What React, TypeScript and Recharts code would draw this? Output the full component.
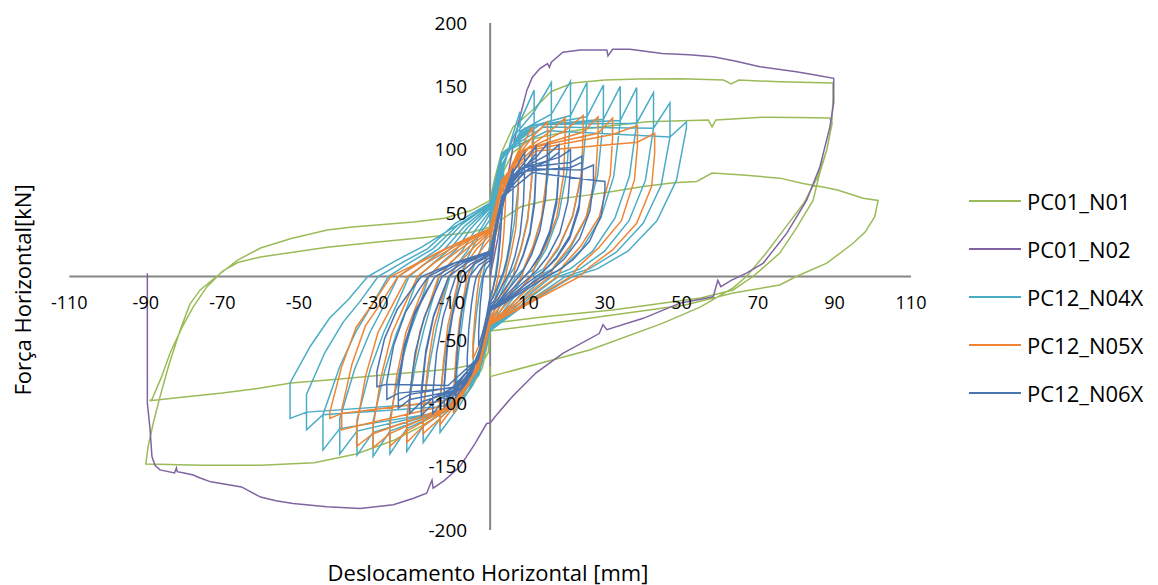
import React from 'react';
import { ScatterChart, Scatter, XAxis, YAxis, ReferenceLine, ReferenceDot, Legend } from 'recharts';

// tick values
const xTicks = [-110, -90, -70, -50, -30, -10, 10, 30, 50, 70, 90, 110];
const yTicks = [-200, -150, -100, -50, 0, 50, 100, 150, 200];

// PC01_N01 (monotonic-ish large cycles)
const pc01N01: number[][] = [
  [0, 0], [1, 30], [3, 45], [8, 55], [14.7, 60], [25, 64], [32, 67], [40, 71], [48, 74], [54, 75], [58, 81.6], [66, 80], [75.7, 77.6], [81.8, 73.4], [88, 70], [91, 68], [97.5, 61.7], [101.4, 60],
  [100.5, 47], [98, 35], [94.8, 26], [88, 10.6], [80, 0], [75.7, -6.7], [63.5, -13], [51, -22.5], [23.5, -34], [0, -43],
  [-0.5, -60], [-2, -68], [-10, -73], [-25, -77], [-40, -81], [-52, -84], [-60, -88], [-70, -92], [-80, -95], [-86, -97], [-89, -98],
  [-88.4, -97], [-86, -80], [-83.6, -60], [-80.5, -40], [-77.6, -24], [-74, -8], [-70, 4], [-66, 11], [-60, 15.4], [-52, 19], [-42.6, 23], [-30, 27], [-16.5, 31], [-5, 35], [0, 39],
  [1, 55], [3, 80], [6, 98], [10.4, 108], [18, 113], [26, 117], [41, 122], [57, 123.5], [58, 118], [59, 123.5], [71, 125.6], [80, 125.5], [88.7, 125],
  [89.4, 121], [88, 100], [86, 80], [84.4, 60], [80, 38], [75.7, 18.5], [71, 6], [68.7, 0], [63.5, -10.6], [55, -17], [32, -26.5], [14.7, -31.6], [0, -37],
  [-0.5, -50], [-2, -72], [-5, -88], [-10, -103], [-18, -118], [-25, -129], [-35, -140], [-46, -147], [-60, -149], [-75, -149], [-90, -148],
  [-89.4, -134], [-88, -115], [-86.3, -95], [-84, -70], [-81, -42], [-78.5, -22], [-75.8, -10.6], [-71.5, 0], [-66, 13], [-60, 22.5], [-52, 30], [-42.6, 36.7], [-36, 39], [-29.6, 40.6], [-20, 43], [-12, 46], [-5, 52], [0, 60],
  [1, 75], [3, 98], [6, 118], [11, 131], [16, 146], [21.6, 152.6], [30, 155], [39, 155.8], [50, 156], [61, 155], [63, 152], [65, 155], [75.7, 153.6], [89.6, 152.6],
  [89.6, 140], [89.3, 121], [88, 100], [85.5, 78], [82, 58], [77, 38], [72, 18], [67, 0], [63.5, -9], [55, -24], [45, -37], [26, -58], [0, -79], [0, -71],
];

// PC01_N02 (one big cycle)
const pc01N02: number[][] = [
  [0, 0], [2, 30], [4, 68], [6, 103], [7.8, 126], [9.6, 147], [11, 157], [13, 164], [15, 168], [15.5, 165], [16, 169], [19, 177], [23.5, 178.7], [30.5, 178.7], [30.8, 174], [32, 179.2], [36.5, 179.2], [45, 176], [52, 175], [58.3, 173.4], [64, 170], [70.5, 165.5], [80, 161.6], [85, 159], [89.8, 156.4],
  [89.8, 137], [88.8, 118], [86.2, 86.6], [82.7, 60], [77.5, 34], [71.4, 10.6], [67, 2.6], [63, -3], [60.3, -8], [59.5, -3], [58.3, -16], [54, -18.5], [49.6, -21], [40, -33], [30.5, -42], [29.5, -38], [28.5, -45], [19, -60.6], [12, -76], [6, -94], [2, -108], [0, -115.6],
  [-0.9, -116], [-4, -132], [-7.9, -150], [-12, -161], [-14.9, -167], [-15.2, -160.6], [-16.6, -171], [-20, -175], [-25.3, -180], [-34, -183], [-42.7, -181.6], [-51.5, -179], [-56, -177], [-60, -174], [-65, -166], [-73, -162], [-75.8, -159], [-77.6, -156.6], [-80, -155], [-81.8, -154], [-82, -151], [-82.5, -155], [-86.3, -152.6], [-87.6, -149], [-88.4, -142], [-88.9, -120], [-89.6, -100], [-89.6, -40], [-89.6, 2.5],
];

// PC12_N04X, one line per cycle
const pc12N04X: number[][] = [
  [0, 0], [1, 35], [2.2, 62], [3.5, 85], [3.5, 68], [2.8, 40], [2, 15], [1.3, 0], [0.6, -12], [0, -20], [-1.2, -42], [-2.8, -58], [-4.4, -70], [-4.4, -55], [-3.6, -30], [-2.7, -10], [-2, 0], [-1, 14], [0, 25],
  [1.5, 60], [3.5, 85], [5.5, 108], [7.8, 130], [7.8, 104], [7.3, 70], [6.3, 42], [5, 20], [4, 6], [3.3, 0], [2, -10], [1, -20], [0, -30], [-1.5, -55], [-3.5, -72], [-6, -88], [-8.7, -100], [-8.7, -75], [-7.8, -48], [-6.8, -25], [-5.3, 0], [-3.5, 14], [-1.8, 26], [0, 38],
  [2, 70], [4.5, 98], [7.8, 122], [11.5, 147], [11.5, 120], [10.9, 78], [9.8, 46], [8, 22], [6.3, 7], [4.8, 0], [3, -12], [1.3, -25], [0, -35], [-2, -65], [-4.5, -85], [-8.7, -105], [-13.1, -123], [-13.1, -95], [-11.8, -62], [-10.4, -36], [-9.3, -20], [-8, 0], [-6, 14], [-3, 32], [0, 45],
  [2.5, 80], [6, 110], [11.5, 130], [16, 153], [16, 125], [15.2, 82], [13.6, 48], [11.2, 22], [8.8, 6], [6.7, 0], [4, -14], [1.8, -28], [0, -38], [-2.5, -68], [-6, -92], [-13.1, -112], [-17.5, -131], [-17.5, -103], [-15.7, -67], [-14, -40], [-12.4, -20], [-10.5, 0], [-8.3, 11], [-6, 20], [-3.3, 33], [0, 50],
  [3, 88], [8, 115], [16, 128], [21, 154], [21, 126], [20, 82], [17.9, 48], [14.7, 22], [11.5, 6], [8.8, 0], [5.3, -15], [2.3, -29], [0, -40], [-3, -72], [-8, -98], [-17.5, -118], [-21.8, -138], [-21.8, -110], [-19.6, -71], [-17.4, -43], [-15.5, -23], [-13.3, 0], [-10.5, 10], [-7.4, 20], [-4, 36], [0, 52],
  [3, 92], [9, 117], [21, 127], [25.3, 153], [25.3, 125], [24, 81], [21.5, 47], [17.7, 21], [13.9, 6], [10.6, 0], [6.3, -16], [2.8, -30], [0, -41], [-3, -74], [-9, -102], [-21.8, -120], [-26.2, -140], [-26.2, -112], [-23.6, -73], [-21, -44], [-18.6, -24], [-16, 0], [-12.6, 11], [-8.9, 21], [-5, 38], [0, 54],
  [3, 94], [10, 118], [25.3, 126], [29.6, 151], [29.6, 123], [28.1, 80], [25.2, 47], [20.7, 21], [16.3, 6], [12.4, 0], [7.4, -16], [3.2, -31], [0, -42], [-3, -75], [-10, -104], [-26.2, -122], [-30.6, -142], [-30.6, -114], [-27.5, -74], [-24.5, -45], [-21.7, -24], [-18.7, 0], [-14.7, 11], [-10.4, 22], [-5.8, 39], [0, 55],
  [3, 95], [11, 119], [29.6, 124], [34, 150], [34, 122], [32.3, 79], [28.9, 46], [23.8, 21], [18.7, 6], [14.3, 0], [8.5, -16], [3.7, -31], [0, -42], [-3, -76], [-11, -105], [-30.6, -123], [-34.8, -141], [-34.8, -113], [-31.3, -73], [-27.8, -44], [-24.7, -24], [-21.2, 0], [-16.7, 11], [-11.8, 22], [-6.6, 40], [0, 56],
  [3, 96], [12, 120], [34, 123], [38.3, 149], [38.3, 121], [36.4, 79], [32.6, 46], [26.8, 20], [21, 6], [16.1, 0], [9.6, -16], [4.2, -31], [0, -43], [-3, -77], [-12, -106], [-34.8, -122], [-39.3, -140], [-39.3, -112], [-35.4, -73], [-31.4, -44], [-27.9, -24], [-24, 0], [-18.9, 11], [-13.4, 22], [-7.5, 41], [0, 57],
  [3, 97], [13, 120], [38.3, 121], [42.7, 145], [42.7, 117], [40.6, 76], [36.3, 44], [29.9, 20], [23.5, 6], [17.9, 0], [10.7, -16], [4.7, -31], [0, -43], [-3, -78], [-13, -107], [-39.3, -120], [-43.7, -137], [-43.7, -109], [-39.3, -71], [-35, -43], [-31, -23], [-26.6, 0], [-21, 11], [-14.9, 22], [-8.3, 41], [0, 57],
  [3, 97], [14, 118], [42.7, 117], [47, 137], [47, 110], [44.7, 72], [40, 42], [32.9, 19], [25.9, 6], [19.7, 0], [11.8, -16], [5.2, -31], [0, -43], [-3, -78], [-14, -103], [-43.7, -109], [-48, -121], [-48, -93], [-43.2, -60], [-38.4, -36], [-34.1, -20], [-29.3, 0], [-23, 11], [-16.3, 22], [-9.1, 42], [0, 58],
  [3, 97], [15, 115], [47, 110], [51.3, 122], [51.3, 117], [48.7, 76], [43.6, 44], [36, 20], [28, 6], [21.5, 0], [12.8, -16], [5, -30], [0, -42], [-3, -76], [-15, -100], [-48, -107], [-52.3, -112], [-52.3, -84], [-47, -55], [-42, -33], [-37, -18], [-32, 0], [-25, 12], [-18, 23], [-10, 38], [-5, 47], [0, 57],
];

// PC12_N05X
const pc12N05X: number[][] = [
  [0, 0], [1.3, 30], [2.6, 52], [4, 70], [4, 58], [3.6, 35], [3, 15], [2.3, 3], [2.1, 0], [1.2, -12], [0, -20], [-1.5, -40], [-3, -55], [-4.5, -65], [-4.5, -52], [-4, -32], [-3.4, -13], [-2.8, 0], [-1.5, 12], [0, 22],
  [2, 50], [4, 70], [5.8, 88], [7.5, 100], [7.5, 86], [7.3, 63], [6.7, 38], [5.5, 19], [4.5, 7], [4, 0], [2.5, -11], [1, -22], [0, -28], [-2, -55], [-4.5, -72], [-7, -92], [-9.6, -108], [-9.6, -94], [-8.9, -62], [-8, -35], [-6.9, -16], [-6, 0], [-4.5, 9], [-2.5, 20], [0, 30],
  [2.5, 62], [5, 82], [7.5, 98], [11, 118], [11, 102], [10.8, 75], [9.8, 44], [8.1, 22], [6.6, 8], [6, 0], [3.6, -13], [1.5, -25], [0, -32], [-2.5, -62], [-5.5, -85], [-9.6, -103], [-13.1, -117], [-13.1, -102], [-12.2, -67], [-11, -38], [-9.4, -17], [-8.1, 0], [-6.2, 10], [-3.5, 22], [0, 33],
  [3, 68], [6, 90], [11, 110], [15, 122], [15, 106], [14.7, 77], [13.4, 46], [11.1, 23], [9, 8], [8.3, 0], [5, -14], [2, -26], [0, -34], [-3, -67], [-7, -92], [-13.1, -112], [-17.5, -124], [-17.5, -108], [-16.3, -71], [-14.7, -40], [-12.6, -18], [-10.9, 0], [-8.3, 10], [-4.6, 22], [0, 35],
  [3, 72], [7, 95], [15, 113], [19.6, 125], [19.6, 109], [19.2, 80], [17.4, 47], [14.5, 24], [11.8, 9], [10.8, 0], [6.5, -14], [2.7, -27], [0, -35], [-3, -70], [-8, -97], [-17.5, -118], [-21.8, -131], [-21.8, -115], [-20.3, -76], [-18.3, -43], [-15.7, -20], [-13.5, 0], [-10.4, 11], [-5.7, 23], [0, 36],
  [3, 74], [8, 98], [19.6, 115], [24.3, 127], [24.3, 111], [23.8, 81], [21.6, 48], [18, 24], [14.6, 9], [13.4, 0], [8, -15], [3.4, -28], [0, -36], [-3, -72], [-9, -100], [-21.8, -122], [-26.2, -134], [-26.2, -118], [-24.4, -78], [-22, -44], [-18.9, -20], [-16.2, 0], [-12.4, 11], [-6.8, 24], [0, 37],
  [3, 75], [9, 100], [24.3, 114], [28.2, 126], [28.2, 110], [27.6, 80], [25.1, 47], [20.9, 24], [16.9, 9], [15.5, 0], [9.3, -15], [3.9, -28], [0, -37], [-3, -73], [-10, -102], [-26.2, -124], [-30.6, -135], [-30.6, -119], [-28.5, -79], [-25.7, -45], [-22, -20], [-19, 0], [-14.5, 11], [-8, 24], [0, 38],
  [3, 76], [10, 101], [28.2, 113], [32, 125], [32, 109], [31.4, 80], [28.5, 47], [23.7, 24], [19.2, 9], [17.6, 0], [10.6, -15], [4.5, -28], [0, -37], [-3, -73], [-11, -103], [-30.6, -124], [-34.9, -134], [-34.9, -118], [-32.5, -78], [-29.3, -44], [-25.1, -20], [-21.6, 0], [-16.5, 11], [-9.1, 24], [0, 38],
  [3, 76], [11, 100], [32, 112], [38.5, 119], [38.5, 103], [37.7, 76], [34.3, 44], [28.5, 23], [23.1, 8], [21.2, 0], [12.7, -15], [5.4, -28], [0, -38], [-3, -73], [-12, -102], [-34.9, -118], [-38.8, -121], [-38.8, -105], [-36.1, -69], [-32.6, -39], [-27.9, -18], [-24.1, 0], [-18.4, 11], [-10.1, 24], [0, 38],
  [3, 76], [12, 99], [38.5, 106], [43, 113], [43, 97], [42.2, 71], [38.3, 42], [32, 21], [26, 7.5], [23.5, 0], [14, -15], [6, -28], [0, -38], [-3, -72], [-12, -98], [-38.8, -108], [-41.9, -112], [-41.9, -107], [-38.8, -71], [-35, -40], [-30, -18.5], [-26, 0], [-20, 9], [-13, 20], [-6, 30], [0, 38],
];

// PC12_N06X
const pc12N06X: number[][] = [
  [0, 0], [1, 25], [2, 45], [3, 60], [3, 48], [2.6, 28], [2, 10], [1.5, 0], [0.7, -10], [0, -15], [-1, -32], [-2, -45], [-3, -55], [-3, -43], [-2.6, -22], [-2.1, -8], [-1.8, 0], [-1, 6], [0, 10],
  [1.5, 35], [3, 55], [4.5, 72], [6, 85], [6, 70], [5.8, 48], [5.2, 28], [4.3, 13], [3.5, 4], [3, 0], [1.8, -9], [0.7, -17], [0, -20], [-1.5, -45], [-3, -60], [-4.5, -72], [-6, -80], [-6, -65], [-5.6, -42], [-4.9, -22], [-4.2, -8], [-3.6, 0], [-2, 8], [0, 13],
  [2, 45], [4, 68], [6, 82], [9, 98], [9, 83], [8.7, 58], [7.8, 33], [6.5, 16], [5.3, 5], [4.5, 0], [2.7, -10], [1.1, -19], [0, -22], [-2, -52], [-4, -70], [-6, -83], [-9, -95], [-9, -80], [-8.4, -52], [-7.4, -28], [-6.2, -11], [-5.4, 0], [-3, 9], [0, 15],
  [2.5, 52], [5, 75], [9, 90], [12, 103], [12, 88], [11.6, 61], [10.4, 35], [8.6, 17], [7, 5], [6, 0], [3.6, -11], [1.5, -20], [0, -24], [-2.5, -58], [-5, -78], [-9, -92], [-12, -103], [-12, -88], [-11.2, -57], [-9.8, -30], [-8.3, -12], [-7.2, 0], [-4, 10], [0, 17],
  [2.5, 50], [5, 72], [9, 86], [12, 97], [12, 83], [11.6, 57], [10.4, 33], [8.6, 16], [7, 5], [6, 0], [3.6, -11], [1.5, -20], [0, -24], [-2.5, -56], [-5, -75], [-9, -88], [-12, -98], [-12, -84], [-11.2, -54], [-9.8, -29], [-8.3, -11], [-7.2, 0], [-4, 10], [0, 17],
  [3, 57], [6, 80], [12, 94], [15, 105], [15, 90], [14.5, 62], [13, 36], [10.8, 17], [8.7, 5], [7.5, 0], [4.5, -11], [1.9, -21], [0, -25], [-3, -62], [-6, -83], [-12, -98], [-15, -108], [-15, -93], [-14, -60], [-12.3, -32], [-10.4, -13], [-9, 0], [-5, 10], [0, 18],
  [3, 60], [7, 83], [15, 96], [18, 104], [18, 89], [17.4, 62], [15.6, 36], [13, 17], [10.4, 5], [9, 0], [5.4, -11], [2.2, -21], [0, -26], [-3, -64], [-7, -87], [-15, -100], [-18, -110], [-18, -95], [-16.8, -61], [-14.8, -32], [-12.4, -13], [-10.8, 0], [-6, 11], [0, 19],
  [3, 58], [7, 80], [15, 91], [18, 98], [18, 84], [17.4, 58], [15.6, 34], [13, 16], [10.4, 5], [9, 0], [5.4, -11], [2.2, -21], [0, -26], [-3, -62], [-7, -84], [-15, -96], [-18, -104], [-18, -90], [-16.8, -58], [-14.8, -31], [-12.4, -12], [-10.8, 0], [-6, 11], [0, 19],
  [3, 62], [8, 85], [18, 94], [21, 100], [21, 85], [20.3, 59], [18.2, 34], [15.1, 16], [12.2, 5], [10.5, 0], [6.3, -11], [2.6, -21], [0, -26], [-3, -65], [-8, -89], [-18, -99], [-21, -108], [-21, -93], [-19.6, -60], [-17.2, -32], [-14.5, -13], [-12.6, 0], [-7, 11], [0, 20],
  [3, 63], [9, 86], [21, 90], [24, 95], [24, 80], [23.2, 56], [20.8, 32], [17.3, 15], [13.9, 4], [12, 0], [7.2, -11], [3, -21], [0, -27], [-3, -65], [-9, -90], [-21, -97], [-24, -104], [-24, -89], [-22.4, -57], [-19.7, -30], [-16.6, -12], [-14.4, 0], [-8, 11], [0, 20],
  [3, 61], [9, 83], [21, 86], [24, 90], [24, 76], [23.2, 53], [20.8, 30], [17.3, 14], [13.9, 4], [12, 0], [7.2, -11], [3, -21], [0, -27], [-3, -63], [-9, -87], [-21, -93], [-24, -98], [-24, -84], [-22.4, -54], [-19.7, -28], [-16.6, -11], [-14.4, 0], [-8, 11], [0, 20],
  [3, 63], [10, 85], [24, 84], [27, 88], [27, 74], [26.1, 52], [23.4, 30], [19.4, 14], [15.7, 4], [13.5, 0], [8.1, -11], [3.4, -21], [0, -27], [-3, -65], [-10, -88], [-24, -92], [-27, -97], [-27, -83], [-25.2, -54], [-22.1, -28], [-18.7, -11], [-16.2, 0], [-9, 11], [0, 20],
  [3, 62], [11, 82], [27, 76], [30, 75], [30, 68], [29, 48], [26, 28], [21.6, 13], [17.4, 4], [14.8, 0], [9, -11], [3.7, -21], [0, -27], [-3, -64], [-11, -86], [-27, -85], [-29.6, -87], [-29.6, -75], [-27.6, -49], [-24.3, -26], [-20.5, -10], [-18, 0], [-10, 10], [0, 18],
];

const toPoints = (rows: number[][]) => rows.map(([x, y]) => ({ x, y }));

const SERIES = [
  { name: 'PC01_N01', color: '#9BBB59', data: toPoints(pc01N01) },
  { name: 'PC01_N02', color: '#8064A2', data: toPoints(pc01N02) },
  { name: 'PC12_N04X', color: '#4BACC6', data: toPoints(pc12N04X) },
  { name: 'PC12_N05X', color: '#EE8535', data: toPoints(pc12N05X) },
  { name: 'PC12_N06X', color: '#4A74B0', data: toPoints(pc12N06X) },
];

const W = 1150;
const H = 577;
const MARGIN = { top: 15, left: 61.3, right: 247, bottom: 55 };
const FONT = '"Open Sans", "Liberation Sans", sans-serif';

const noDot = () => <g />;

const renderLegend = () => (
  <div style={{ fontFamily: FONT }}>
    {SERIES.map((s) => (
      <div key={s.name} style={{ display: 'flex', alignItems: 'center', height: 48.1 }}>
        <span style={{ width: 52, borderTop: `2px solid ${s.color}` }} />
        <span style={{ marginLeft: 6, fontSize: 22, color: '#000' }}>{s.name}</span>
      </div>
    ))}
  </div>
);

export default function App() {
  return (
    <div style={{ position: 'relative', width: W, height: H, fontFamily: FONT }}>
      <ScatterChart width={W} height={H} margin={MARGIN}>
        <XAxis type="number" dataKey="x" domain={[-110, 110]} ticks={xTicks} hide allowDataOverflow />
        <YAxis type="number" dataKey="y" domain={[-200, 200]} ticks={yTicks} hide allowDataOverflow />
        <ReferenceLine y={0} stroke="#868686" strokeWidth={2} />
        <ReferenceLine x={0} stroke="#868686" strokeWidth={2} />
        {SERIES.map((s) => (
          <Scatter
            key={s.name}
            name={s.name}
            data={s.data}
            line={{ stroke: s.color, strokeWidth: 1.5 }}
            lineType="joint"
            shape={noDot}
            fill={s.color}
            isAnimationActive={false}
          />
        ))}
        {/* tick labels sit next to the crossing axes, so they hang off reference dots */}
        {xTicks.map((v) => (
          <ReferenceDot
            key={`xt${v}`}
            x={v}
            y={0}
            r={0}
            fill="none"
            stroke="none"
            label={{ value: v, position: 'bottom', offset: 20, fill: '#000', fontSize: 18, fontFamily: FONT }}
          />
        ))}
        {yTicks.map((v) => (
          <ReferenceDot
            key={`yt${v}`}
            x={0}
            y={v}
            r={0}
            fill="none"
            stroke="none"
            label={{ value: v, position: 'left', offset: 23, fill: '#000', fontSize: 19, fontFamily: FONT }}
          />
        ))}
        <Legend
          layout="vertical"
          align="center"
          verticalAlign="middle"
          content={renderLegend}
          wrapperStyle={{ position: 'absolute', left: 961, top: 168.6, width: 190, height: 'auto' }}
        />
      </ScatterChart>
      <div
        style={{
          position: 'absolute',
          left: 14,
          top: 282,
          transform: 'translate(-50%, -50%) rotate(-90deg)',
          whiteSpace: 'nowrap',
          fontSize: 22,
        }}
      >
        Força Horizontal[kN]
      </div>
      <div
        style={{
          position: 'absolute',
          left: 480,
          top: 564,
          transform: 'translate(-50%, -50%)',
          whiteSpace: 'nowrap',
          fontSize: 22,
        }}
      >
        Deslocamento Horizontal [mm]
      </div>
    </div>
  );
}
